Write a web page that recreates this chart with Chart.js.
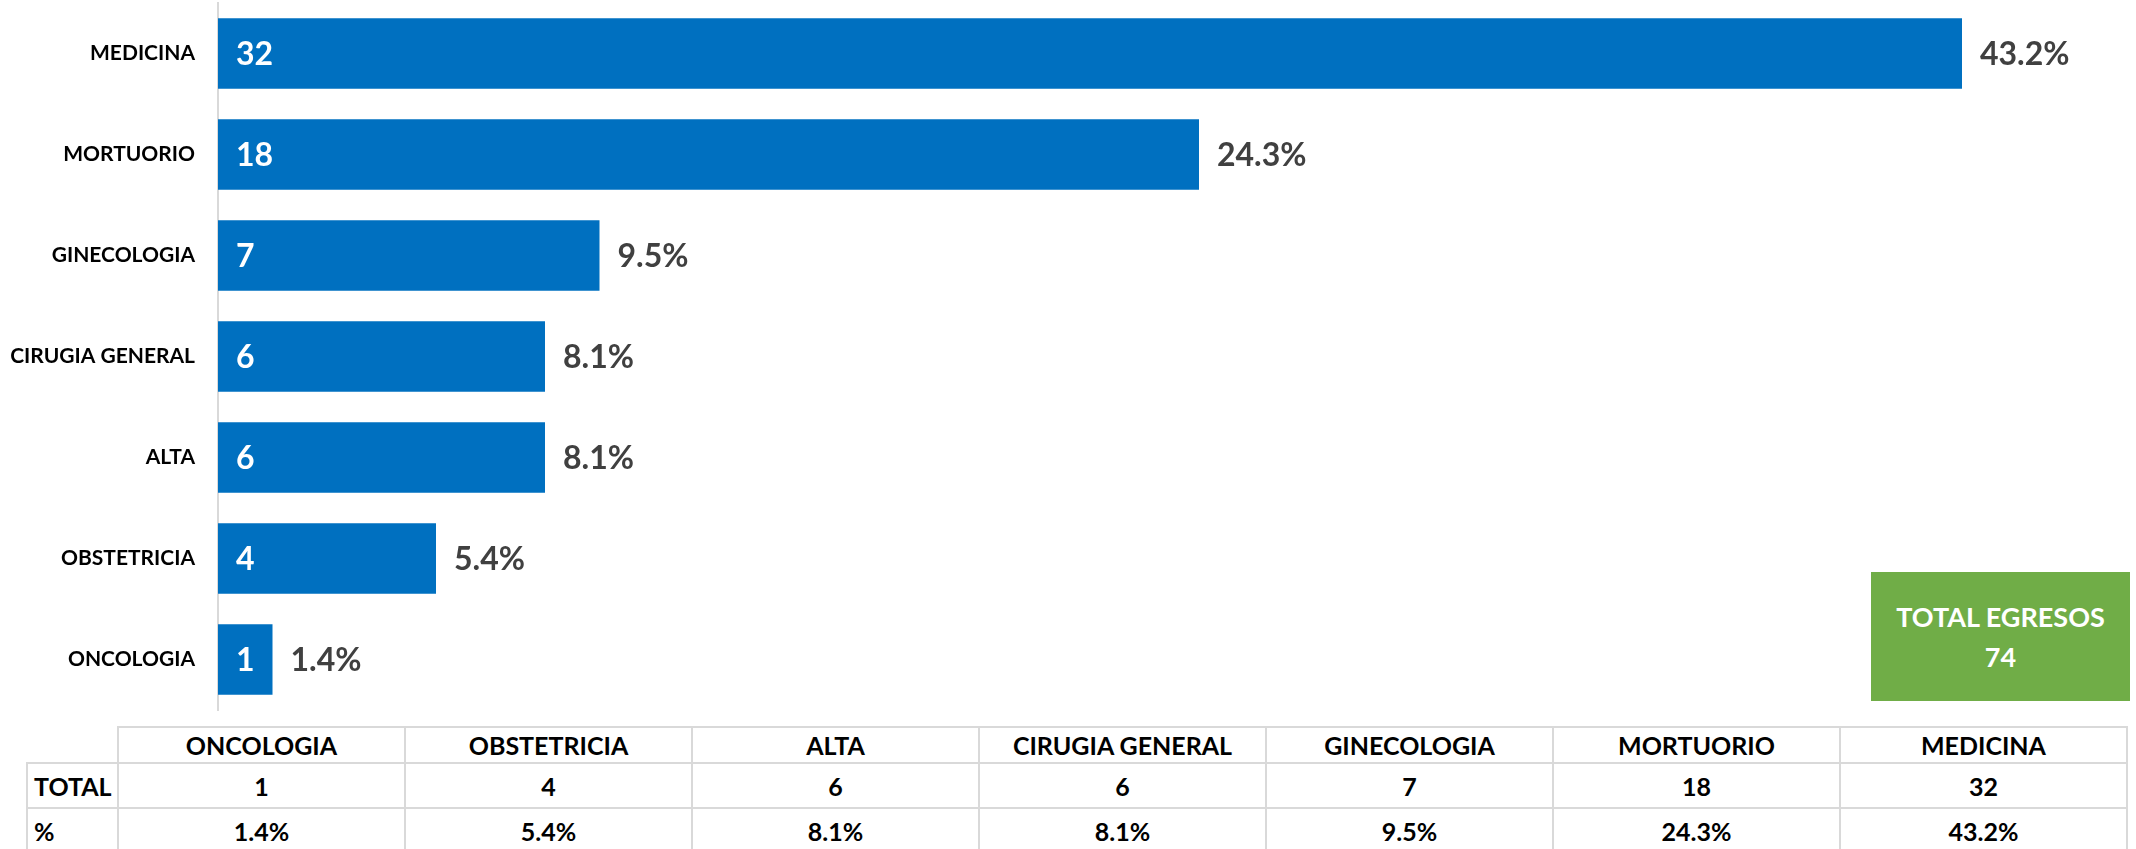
<!DOCTYPE html>
<html>
<head>
<meta charset="utf-8">
<script src="https://cdn.jsdelivr.net/npm/chart.js@4"></script>
<style>
  body { margin: 0; width: 2136px; height: 849px; overflow: hidden; background: #fff; font-family: Lato, "Open Sans", sans-serif; }
  #wrap { position: absolute; left: 0; top: 0; width: 2136px; height: 712px; }
  #totalBox {
    position: absolute; left: 1871px; top: 572px; width: 259px; height: 129px;
    background: #70AD47; color: #fff; font-weight: bold; font-size: 27px; line-height: 40px;
    display: flex; flex-direction: column; align-items: center; justify-content: center; text-align: center;
  }
  #tbl {
    position: absolute; left: 26px; top: 726px; border-collapse: collapse; table-layout: fixed;
    font-weight: bold; font-size: 25px; color: #000;
  }
  #tbl td { border: 2px solid #d9d9d9; text-align: center; padding: 0; }
  #tbl td.rowhead { text-align: left; padding-left: 6px; }
  #tbl td.blank { border-top: none; border-left: none; }
  #tbl tr.head td { height: 34px; }
  #tbl tr.body td { height: 43px; }
</style>
</head>
<body>
<div id="wrap"><canvas id="egresosChart" width="2136" height="712"></canvas></div>
<div id="totalBox"><div>TOTAL EGRESOS</div><div id="totalNum"></div></div>
<table id="tbl"></table>
<script>
// egresos por servicio (mayor a menor, como en la grafica)
const servicios = ["MEDICINA", "MORTUORIO", "GINECOLOGIA", "CIRUGIA GENERAL", "ALTA", "OBSTETRICIA", "ONCOLOGIA"];
const egresos = [32, 18, 7, 6, 6, 4, 1];
const total = egresos.reduce((a, b) => a + b, 0);
const pct = v => (v / total * 100).toFixed(1) + "%";

const COLORS = { bar: "#0070C0", pctText: "#404040", axis: "#d9d9d9" };

// draws the value inside the bar and the % after it
const barLabels = {
  id: "barLabels",
  afterDatasetsDraw(chart) {
    const ctx = chart.ctx;
    const meta = chart.getDatasetMeta(0);
    ctx.save();
    ctx.textBaseline = "middle";
    ctx.textAlign = "left";
    ctx.font = "bold 32px Lato";
    meta.data.forEach((bar, i) => {
      const v = chart.data.datasets[0].data[i];
      ctx.fillStyle = "#fff";
      ctx.fillText(String(v), bar.base + 18, bar.y + 1);
      ctx.fillStyle = COLORS.pctText;
      ctx.fillText(pct(v), bar.x + 18, bar.y + 1);
    });
    ctx.restore();
  }
};

new Chart(document.getElementById("egresosChart").getContext("2d"), {
  type: "bar",
  data: {
    labels: servicios,
    datasets: [{
      data: egresos,
      backgroundColor: COLORS.bar,
      barPercentage: 0.70,
      categoryPercentage: 1.0
    }]
  },
  options: {
    indexAxis: "y",
    responsive: false,
    animation: false,
    layout: { padding: { left: 0, right: 10.5, top: 3, bottom: 2 } },
    plugins: { legend: { display: false }, tooltip: { enabled: false } },
    scales: {
      x: { display: false, min: 0, max: 35 },
      y: {
        grid: { display: false, drawTicks: false },
        border: { display: true, color: COLORS.axis, width: 2 },
        ticks: { color: "#000", padding: 23, font: { family: "Lato", size: 21, weight: "bold" } },
        afterFit(scale) {
          scale.width = 218;
          // tick padding should not eat vertical room
          scale.paddingTop = 0;
          scale.paddingBottom = 0;
        }
      }
    }
  },
  plugins: [barLabels]
});

document.getElementById("totalNum").textContent = total;

// tabla resumen (orden ascendente)
const order = servicios.map((s, i) => ({ s, v: egresos[i] })).reverse();
let html = '<colgroup><col style="width:91px">' + order.map(() => '<col style="width:287px">').join("") + '</colgroup>';
html += '<tr class="head"><td class="blank"></td>' + order.map(o => `<td>${o.s}</td>`).join("") + "</tr>";
html += '<tr class="body"><td class="rowhead">TOTAL</td>' + order.map(o => `<td>${o.v}</td>`).join("") + "</tr>";
html += '<tr class="body"><td class="rowhead">%</td>' + order.map(o => `<td>${pct(o.v)}</td>`).join("") + "</tr>";
document.getElementById("tbl").innerHTML = html;
</script>
</body>
</html>
